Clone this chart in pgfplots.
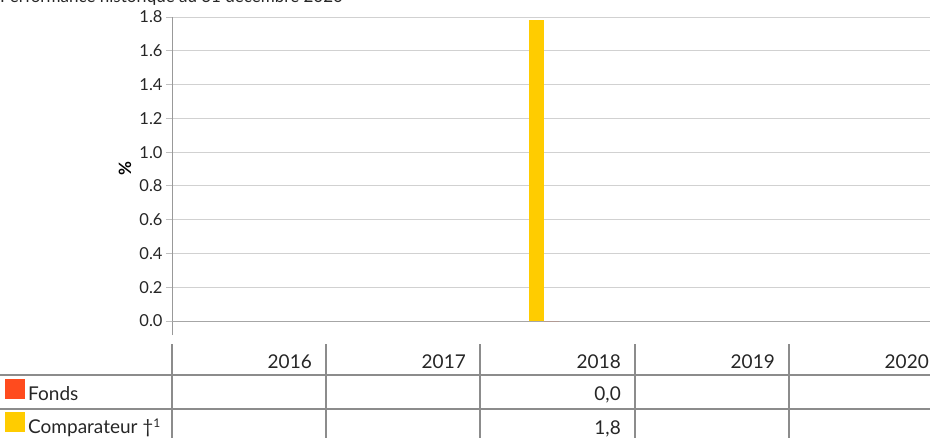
\documentclass[border=0pt]{standalone}
\usepackage{pgfplots}
\pgfplotsset{compat=1.18}
\usepackage{fontspec}
\setmainfont{Lato}
\definecolor{fondsc}{HTML}{FF4B1E}
\definecolor{compc}{HTML}{FFCC00}
\definecolor{tabline}{HTML}{8C8C8C}
\begin{document}
\begin{tikzpicture}
\clip (0,0) rectangle (930pt,-437pt);
\node[anchor=base west, inner sep=0, font=\fontsize{17}{20}\selectfont, text=black!85] at (0pt,-2.5pt) {Performance historique au 31 décembre 2020};
\begin{axis}[
  at={(172pt,-335pt)}, anchor=south west,
  scale only axis, width=770pt, height=318pt,
  xmin=-0.5, xmax=4.5, ymin=-0.0829, ymax=1.8,
  axis y line*=left, axis x line=none,
  y axis line style={draw=black!40, line width=0.8pt},
  ytick={0,0.2,0.4,0.6,0.8,1.0,1.2,1.4,1.6,1.8},
  yticklabel style={/pgf/number format/fixed, /pgf/number format/precision=1, /pgf/number format/fixed zerofill, font=\fontsize{16.5}{19}\selectfont, text=black!85},
  /pgf/number format/assume math mode=true,
  tick align=outside, major tick length=6pt,
  tick style={draw=black!25, line width=0.8pt},
  ymajorgrids, grid style={draw=black!18, line width=0.8pt},
  extra y ticks={0}, extra y tick labels={},
  extra y tick style={grid style={draw=black!35, line width=1pt}},
  xtick=\empty,
  ylabel={\textbf{\%}},
  ylabel style={at={(axis description cs:-0.061,0.525)}, anchor=center, font=\fontsize{17}{20}\selectfont},
  clip=false,
]
\addplot[ybar, fill=fondsc, draw=none, bar width=15pt, bar shift=-5.5pt] coordinates {(2,0)};
\addplot[ybar, fill=compc, draw=none, bar width=15pt, bar shift=-20.5pt] coordinates {(2,1.78)};
\end{axis}
% table
\foreach \x in {172,326,480,635,789}
  \draw[tabline, line width=1.6pt] (\x pt,-344pt) -- (\x pt,-440pt);
\draw[tabline, line width=1.6pt] (0pt,-375pt) -- (935pt,-375pt);
\draw[tabline, line width=1.6pt] (0pt,-409pt) -- (935pt,-409pt);
\begin{scope}[every node/.style={inner sep=0, font=\fontsize{19}{22}\selectfont, text=black!85}]
\node[anchor=base east] at (312pt,-368pt) {2016};
\node[anchor=base east] at (466pt,-368pt) {2017};
\node[anchor=base east] at (621pt,-368pt) {2018};
\node[anchor=base east] at (775pt,-368pt) {2019};
\node[anchor=base east] at (929pt,-368pt) {2020};
\node[anchor=base east] at (621pt,-400pt) {0,0};
\node[anchor=base east] at (621pt,-434pt) {1,8};
\fill[fondsc] (5pt,-379pt) rectangle (25pt,-399pt);
\fill[compc] (5pt,-412pt) rectangle (25pt,-432pt);
\node[anchor=base west] at (28pt,-400pt) {Fonds};
\node[anchor=base west] at (28pt,-433pt) {Comparateur †{\fontsize{12}{14}\selectfont\raisebox{6pt}{1}}};
\end{scope}
\end{tikzpicture}
\end{document}
